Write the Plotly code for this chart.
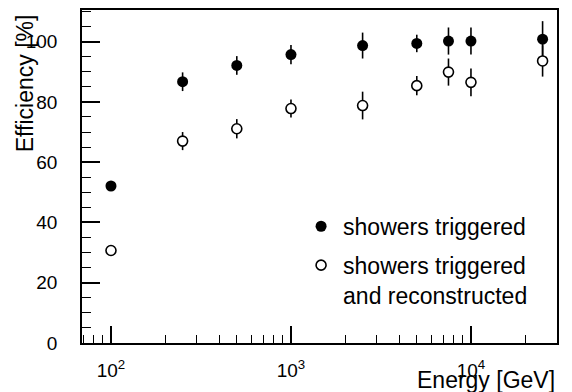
import plotly.graph_objects as go

energy = [100, 250, 500, 1000, 2500, 5000, 7500, 10000, 25000]
eff_trig = [52.1, 86.7, 92.1, 95.7, 98.7, 99.4, 100.2, 100.2, 100.8]
err_trig = [1.0, 3.1, 3.1, 3.2, 4.3, 2.9, 4.5, 4.5, 6.0]
eff_reco = [30.7, 67.0, 71.1, 77.8, 78.8, 85.4, 89.9, 86.5, 93.6]
err_reco = [1.0, 3.0, 3.2, 3.0, 4.6, 3.2, 4.5, 4.6, 5.2]
x_tickvals = [100, 1000, 10000]
x_ticktext = ["10<sup>2</sup>", "10<sup>3</sup>", "10<sup>4</sup>"]
y_tickvals = [0, 20, 40, 60, 80, 100]

FONT = "Liberation Sans, Arial, Helvetica, sans-serif"

fig = go.Figure()
fig.add_trace(go.Scatter(
    x=energy, y=eff_trig, mode="markers", name="showers triggered",
    legendgroup="a",
    marker=dict(symbol="circle", size=11, color="black", line=dict(width=0)),
    error_y=dict(type="data", array=err_trig, width=0, thickness=1.6, color="black"),
))
fig.add_trace(go.Scatter(
    x=energy, y=eff_reco, mode="markers",
    name="showers triggered<br>and reconstructed",
    legendgroup="b",
    marker=dict(symbol="circle", size=10, color="white", line=dict(width=1.6, color="black")),
    error_y=dict(type="data", array=err_reco, width=0, thickness=1.6, color="black"),
))

fig.update_layout(
    width=572, height=392,
    margin=dict(l=82, r=15, t=8, b=49),
    paper_bgcolor="white", plot_bgcolor="white",
    font=dict(family=FONT, color="black", size=18),
    showlegend=True,
    legend=dict(
        x=0.457, y=0.415, xanchor="left", yanchor="top",
        bgcolor="rgba(0,0,0,0)", borderwidth=0,
        font=dict(size=23, family=FONT, color="black"),
        valign="top", itemwidth=34, traceorder="grouped", tracegroupgap=6,
    ),
    annotations=[
        dict(text="Efficiency [%]", xref="paper", yref="paper",
             x=-0.12, y=0.78, xanchor="center", yanchor="middle",
             textangle=-90, showarrow=False, font=dict(size=23, family=FONT)),
        dict(text="Energy [GeV]", xref="paper", yref="paper",
             x=1.0, y=-0.112, xanchor="right", yanchor="middle",
             showarrow=False, font=dict(size=23, family=FONT)),
    ],
)

fig.update_xaxes(
    type="log", range=[1.839, 4.478],
    tickvals=x_tickvals, ticktext=x_ticktext,
    ticks="inside", ticklen=17, tickwidth=1.5, tickcolor="black",
    minor=dict(ticks="inside", ticklen=8, tickwidth=1.2, tickcolor="black", dtick="D1"),
    showline=True, linecolor="black", linewidth=1.6, mirror=True,
    showgrid=False, zeroline=False,
    tickfont=dict(size=19, family=FONT),
    ticklabelstandoff=9,
)
fig.update_yaxes(
    range=[0, 110.5],
    tickvals=y_tickvals,
    ticks="inside", ticklen=18, tickwidth=1.5, tickcolor="black",
    minor=dict(ticks="inside", ticklen=9, tickwidth=1.2, tickcolor="black", dtick=5, tick0=0),
    showline=True, linecolor="black", linewidth=1.6, mirror=True,
    showgrid=False, zeroline=False,
    tickfont=dict(size=19, family=FONT),
    ticklabelstandoff=19,
)

fig.write_html("out.html")
